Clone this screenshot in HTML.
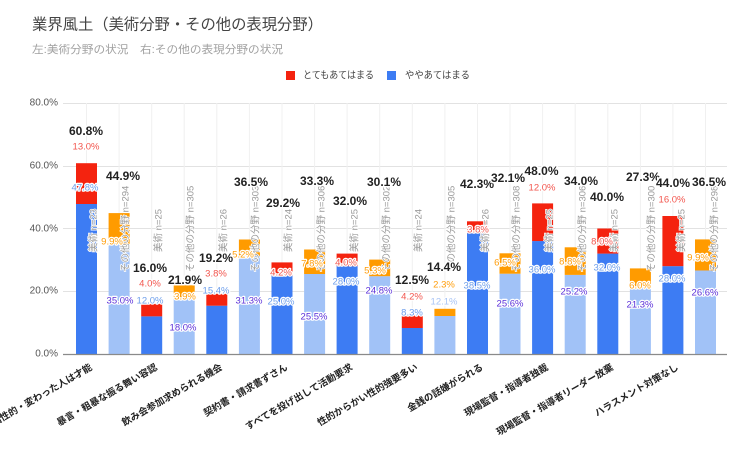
<!DOCTYPE html>
<html>
<head>
<meta charset="utf-8">
<style>
  html, body { margin: 0; padding: 0; background: #fff; }
  svg { display: block; }
  text { font-family: "Liberation Sans", "Noto Sans CJK JP", sans-serif; }
  .tot { font-size: 12px; font-weight: bold; fill: #222; text-anchor: middle; dominant-baseline: central; stroke: #fff; stroke-width: 3px; paint-order: stroke; stroke-linejoin: round; }
  .seg { font-size: 9.5px; text-anchor: middle; dominant-baseline: central; stroke: #fff; stroke-width: 2.5px; paint-order: stroke; stroke-linejoin: round; }
  .r { fill: #f2554d; }
  .lb { fill: #6d9eeb; }
  .or { fill: #ff9d0a; }
  .pu { fill: #5a2fd8; }
  .pl { fill: #a8c4f5; }
  .ann { font-size: 9.5px; fill: #9a9a9a; dominant-baseline: central; stroke: #fff; stroke-width: 1.5px; paint-order: stroke; }
  .cat { font-size: 9.5px; font-weight: bold; fill: #222; text-anchor: end; dominant-baseline: central; }
  .yt { font-size: 10px; fill: #555; text-anchor: end; dominant-baseline: central; }
</style>
</head>
<body>
<svg width="736" height="459" viewBox="0 0 736 459" xmlns="http://www.w3.org/2000/svg">
  <rect x="0" y="0" width="736" height="459" fill="#fff"/>

  <!-- Title -->
  <text x="32" y="25" font-size="15.5" fill="#444" dominant-baseline="central" textLength="291" lengthAdjust="spacingAndGlyphs">業界風土（美術分野・その他の表現分野）</text>
  <text x="32" y="50" font-size="11" fill="#a0a0a0" dominant-baseline="central" textLength="251" lengthAdjust="spacingAndGlyphs">左:美術分野の状況　右:その他の表現分野の状況</text>

  <!-- Legend -->
  <rect x="286" y="71" width="9" height="9" fill="#f4230f"/>
  <text x="303" y="76" font-size="10" fill="#444" dominant-baseline="central" textLength="71" lengthAdjust="spacingAndGlyphs">とてもあてはまる</text>
  <rect x="387" y="71" width="9" height="9" fill="#3d7cf3"/>
  <text x="405" y="76" font-size="10" fill="#444" dominant-baseline="central" textLength="65" lengthAdjust="spacingAndGlyphs">ややあてはまる</text>

  <!-- Horizontal gridlines -->
  <g stroke="#e2e2e2" stroke-width="1">
    <line x1="63" y1="103.5" x2="727" y2="103.5"/>
    <line x1="63" y1="166.5" x2="727" y2="166.5"/>
    <line x1="63" y1="228.5" x2="727" y2="228.5"/>
    <line x1="63" y1="291.5" x2="727" y2="291.5"/>
  </g>
  <!-- Vertical gridlines -->
  <g stroke="#f0f0f0" stroke-width="1">
    <line x1="86.5" y1="103" x2="86.5" y2="354"/>
    <line x1="119.1" y1="103" x2="119.1" y2="354"/>
    <line x1="151.7" y1="103" x2="151.7" y2="354"/>
    <line x1="184.2" y1="103" x2="184.2" y2="354"/>
    <line x1="216.8" y1="103" x2="216.8" y2="354"/>
    <line x1="249.4" y1="103" x2="249.4" y2="354"/>
    <line x1="282.0" y1="103" x2="282.0" y2="354"/>
    <line x1="314.6" y1="103" x2="314.6" y2="354"/>
    <line x1="347.1" y1="103" x2="347.1" y2="354"/>
    <line x1="379.7" y1="103" x2="379.7" y2="354"/>
    <line x1="412.3" y1="103" x2="412.3" y2="354"/>
    <line x1="444.9" y1="103" x2="444.9" y2="354"/>
    <line x1="477.5" y1="103" x2="477.5" y2="354"/>
    <line x1="510.0" y1="103" x2="510.0" y2="354"/>
    <line x1="542.6" y1="103" x2="542.6" y2="354"/>
    <line x1="575.2" y1="103" x2="575.2" y2="354"/>
    <line x1="607.8" y1="103" x2="607.8" y2="354"/>
    <line x1="640.4" y1="103" x2="640.4" y2="354"/>
    <line x1="672.9" y1="103" x2="672.9" y2="354"/>
    <line x1="705.5" y1="103" x2="705.5" y2="354"/>
  </g>

  <!-- Y tick labels -->
  <text class="yt" x="58" y="103">80.0%</text>
  <text class="yt" x="58" y="166">60.0%</text>
  <text class="yt" x="58" y="229">40.0%</text>
  <text class="yt" x="58" y="291">20.0%</text>
  <text class="yt" x="58" y="354">0.0%</text>

  <!-- Bars -->
  <g>
    <!-- 0 -->
    <rect x="76" y="204.0" width="21" height="150.0" fill="#3d7cf3"/>
    <rect x="76" y="163.2" width="21" height="40.8" fill="#f4230f"/>
    <!-- 1 -->
    <rect x="108.6" y="244.2" width="21" height="109.8" fill="#a1c2f7"/>
    <rect x="108.6" y="213.1" width="21" height="31.1" fill="#ff9b00"/>
    <!-- 2 -->
    <rect x="141.2" y="316.35" width="21" height="37.65" fill="#3d7cf3"/>
    <rect x="141.2" y="303.8" width="21" height="12.55" fill="#f4230f"/>
    <!-- 3 -->
    <rect x="173.7" y="297.5" width="21" height="56.5" fill="#a1c2f7"/>
    <rect x="173.7" y="285.3" width="21" height="12.2" fill="#ff9b00"/>
    <!-- 4 -->
    <rect x="206.3" y="305.7" width="21" height="48.3" fill="#3d7cf3"/>
    <rect x="206.3" y="293.8" width="21" height="11.9" fill="#f4230f"/>
    <!-- 5 -->
    <rect x="238.9" y="255.8" width="21" height="98.2" fill="#a1c2f7"/>
    <rect x="238.9" y="239.5" width="21" height="16.3" fill="#ff9b00"/>
    <!-- 6 -->
    <rect x="271.5" y="275.6" width="21" height="78.4" fill="#3d7cf3"/>
    <rect x="271.5" y="262.4" width="21" height="13.2" fill="#f4230f"/>
    <!-- 7 -->
    <rect x="304.1" y="274.0" width="21" height="80.0" fill="#a1c2f7"/>
    <rect x="304.1" y="249.5" width="21" height="24.5" fill="#ff9b00"/>
    <!-- 8 -->
    <rect x="336.6" y="266.15" width="21" height="87.85" fill="#3d7cf3"/>
    <rect x="336.6" y="253.6" width="21" height="12.55" fill="#f4230f"/>
    <!-- 9 -->
    <rect x="369.2" y="276.2" width="21" height="77.8" fill="#a1c2f7"/>
    <rect x="369.2" y="259.6" width="21" height="16.6" fill="#ff9b00"/>
    <!-- 10 -->
    <rect x="401.8" y="328.0" width="21" height="26.0" fill="#3d7cf3"/>
    <rect x="401.8" y="314.8" width="21" height="13.2" fill="#f4230f"/>
    <!-- 11 -->
    <rect x="434.4" y="316.0" width="21" height="38.0" fill="#a1c2f7"/>
    <rect x="434.4" y="308.8" width="21" height="7.2" fill="#ff9b00"/>
    <!-- 12 -->
    <rect x="467.0" y="233.2" width="21" height="120.8" fill="#3d7cf3"/>
    <rect x="467.0" y="221.3" width="21" height="11.9" fill="#f4230f"/>
    <!-- 13 -->
    <rect x="499.5" y="273.7" width="21" height="80.3" fill="#a1c2f7"/>
    <rect x="499.5" y="253.3" width="21" height="20.4" fill="#ff9b00"/>
    <!-- 14 -->
    <rect x="532.1" y="241.05" width="21" height="112.95" fill="#3d7cf3"/>
    <rect x="532.1" y="203.4" width="21" height="37.65" fill="#f4230f"/>
    <!-- 15 -->
    <rect x="564.7" y="274.9" width="21" height="79.1" fill="#a1c2f7"/>
    <rect x="564.7" y="247.3" width="21" height="27.6" fill="#ff9b00"/>
    <!-- 16 -->
    <rect x="597.3" y="253.6" width="21" height="100.4" fill="#3d7cf3"/>
    <rect x="597.3" y="228.5" width="21" height="25.1" fill="#f4230f"/>
    <!-- 17 -->
    <rect x="629.9" y="287.2" width="21" height="66.8" fill="#a1c2f7"/>
    <rect x="629.9" y="268.4" width="21" height="18.8" fill="#ff9b00"/>
    <!-- 18 -->
    <rect x="662.4" y="266.15" width="21" height="87.85" fill="#3d7cf3"/>
    <rect x="662.4" y="216.0" width="21" height="50.15" fill="#f4230f"/>
    <!-- 19 -->
    <rect x="695.0" y="270.5" width="21" height="83.5" fill="#a1c2f7"/>
    <rect x="695.0" y="239.4" width="21" height="31.1" fill="#ff9b00"/>
  </g>

  <!-- Axis line -->
  <line x1="63" y1="354.5" x2="727" y2="354.5" stroke="#8a8a8a" stroke-width="1.3"/>

  <!-- Annotations (rotated) -->
  <g>
    <text class="ann" transform="translate(94,252) rotate(-90)">美術 n=23</text>
    <text class="ann" transform="translate(126,272) rotate(-90)">その他の分野 n=294</text>
    <text class="ann" transform="translate(159,252) rotate(-90)">美術 n=25</text>
    <text class="ann" transform="translate(191,272) rotate(-90)">その他の分野 n=305</text>
    <text class="ann" transform="translate(224,252) rotate(-90)">美術 n=26</text>
    <text class="ann" transform="translate(256,272) rotate(-90)">その他の分野 n=303</text>
    <text class="ann" transform="translate(289,252) rotate(-90)">美術 n=24</text>
    <text class="ann" transform="translate(322,272) rotate(-90)">その他の分野 n=306</text>
    <text class="ann" transform="translate(355,252) rotate(-90)">美術 n=25</text>
    <text class="ann" transform="translate(387,272) rotate(-90)">その他の分野 n=302</text>
    <text class="ann" transform="translate(419,252) rotate(-90)">美術 n=24</text>
    <text class="ann" transform="translate(452,272) rotate(-90)">その他の分野 n=305</text>
    <text class="ann" transform="translate(486,252) rotate(-90)">美術 n=26</text>
    <text class="ann" transform="translate(517,272) rotate(-90)">その他の分野 n=308</text>
    <text class="ann" transform="translate(550,252) rotate(-90)">美術 n=25</text>
    <text class="ann" transform="translate(583,272) rotate(-90)">その他の分野 n=306</text>
    <text class="ann" transform="translate(615,252) rotate(-90)">美術 n=25</text>
    <text class="ann" transform="translate(652,272) rotate(-90)">その他の分野 n=300</text>
    <text class="ann" transform="translate(682,252) rotate(-90)">美術 n=25</text>
    <text class="ann" transform="translate(715,272) rotate(-90)">その他の分野 n=298</text>
  </g>

  <!-- Segment labels -->
  <g>
    <text class="seg r" x="86" y="147">13.0%</text>
    <text class="seg lb" x="85" y="188">47.8%</text>

    <text class="seg or" x="112" y="242">9.9%</text>
    <text class="seg pu" x="120" y="301">35.0%</text>

    <text class="seg r" x="150" y="284">4.0%</text>
    <text class="seg lb" x="150" y="301">12.0%</text>

    <text class="seg or" x="185" y="297">3.9%</text>
    <text class="seg pu" x="183" y="328">18.0%</text>

    <text class="seg r" x="216" y="274">3.8%</text>
    <text class="seg lb" x="216" y="291">15.4%</text>

    <text class="seg or" x="243" y="255">5.2%</text>
    <text class="seg pu" x="249" y="301">31.3%</text>

    <text class="seg r" x="281" y="273">4.2%</text>
    <text class="seg lb" x="281" y="302">25.0%</text>

    <text class="seg or" x="312" y="264">7.8%</text>
    <text class="seg pu" x="314" y="317">25.5%</text>

    <text class="seg r" x="346" y="263">4.0%</text>
    <text class="seg lb" x="346" y="282">28.0%</text>

    <text class="seg or" x="375" y="271">5.3%</text>
    <text class="seg pu" x="379" y="291">24.8%</text>

    <text class="seg r" x="412" y="297">4.2%</text>
    <text class="seg lb" x="412" y="313">8.3%</text>

    <text class="seg or" x="444" y="285">2.3%</text>
    <text class="seg pl" x="444" y="302">12.1%</text>

    <text class="seg r" x="478" y="230">3.8%</text>
    <text class="seg lb" x="477" y="286">38.5%</text>

    <text class="seg or" x="505" y="263">6.5%</text>
    <text class="seg pu" x="510" y="304">25.6%</text>

    <text class="seg r" x="542" y="188">12.0%</text>
    <text class="seg lb" x="542" y="270">36.0%</text>

    <text class="seg or" x="570" y="262">8.8%</text>
    <text class="seg pu" x="574" y="292">25.2%</text>

    <text class="seg r" x="602" y="242">8.0%</text>
    <text class="seg lb" x="607" y="268">32.0%</text>

    <text class="seg or" x="640" y="286">6.0%</text>
    <text class="seg pu" x="640" y="305">21.3%</text>

    <text class="seg r" x="672" y="200">16.0%</text>
    <text class="seg lb" x="672" y="279">28.0%</text>

    <text class="seg or" x="698" y="258">9.9%</text>
    <text class="seg pu" x="705" y="293">26.6%</text>
  </g>

  <!-- Total labels -->
  <g>
    <text class="tot" x="86" y="131">60.8%</text>
    <text class="tot" x="123" y="176">44.9%</text>
    <text class="tot" x="150" y="268">16.0%</text>
    <text class="tot" x="185" y="280">21.9%</text>
    <text class="tot" x="216" y="258">19.2%</text>
    <text class="tot" x="251" y="182">36.5%</text>
    <text class="tot" x="283" y="203">29.2%</text>
    <text class="tot" x="317" y="181">33.3%</text>
    <text class="tot" x="350" y="201">32.0%</text>
    <text class="tot" x="384" y="182">30.1%</text>
    <text class="tot" x="412" y="280">12.5%</text>
    <text class="tot" x="444" y="267">14.4%</text>
    <text class="tot" x="477" y="184">42.3%</text>
    <text class="tot" x="508" y="178">32.1%</text>
    <text class="tot" x="541.5" y="171">48.0%</text>
    <text class="tot" x="581" y="181">34.0%</text>
    <text class="tot" x="607" y="197">40.0%</text>
    <text class="tot" x="643" y="177">27.3%</text>
    <text class="tot" x="673" y="183">44.0%</text>
    <text class="tot" x="709" y="182">36.5%</text>
  </g>

  <!-- Category labels -->
  <g>
    <text class="cat" transform="translate(91.5,367) rotate(-30)">個性的・変わった人は才能</text>
    <text class="cat" transform="translate(156.7,367) rotate(-30)">暴言・粗暴な振る舞い容認</text>
    <text class="cat" transform="translate(221.8,367) rotate(-30)">飲み会参加求められる機会</text>
    <text class="cat" transform="translate(287,367) rotate(-30)">契約書・請求書ずさん</text>
    <text class="cat" transform="translate(352.1,367) rotate(-30)">すべてを投げ出して活動要求</text>
    <text class="cat" transform="translate(417.3,367) rotate(-30)">性的からかい性的強要多い</text>
    <text class="cat" transform="translate(482.5,367) rotate(-30)">金銭の話嫌がられる</text>
    <text class="cat" transform="translate(547.6,367) rotate(-30)">現場監督・指導者独裁</text>
    <text class="cat" transform="translate(612.8,367) rotate(-30)">現場監督・指導者リーダー放棄</text>
    <text class="cat" transform="translate(677.9,367) rotate(-30)">ハラスメント対策なし</text>
  </g>
</svg>
</body>
</html>
